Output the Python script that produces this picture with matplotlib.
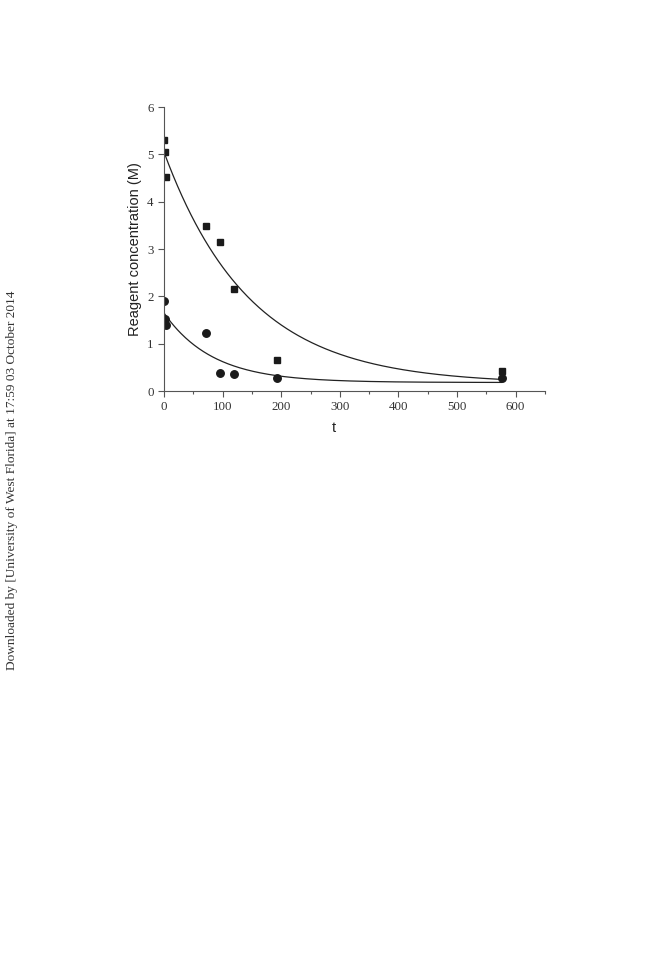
import numpy as np
import matplotlib.pyplot as plt

# data
t_sq = [0, 2, 4, 72, 96, 120, 192, 576]
c_sq = [5.3, 5.05, 4.53, 3.48, 3.14, 2.15, 0.65, 0.43]
t_ci = [0, 2, 4, 72, 96, 120, 192, 576]
c_ci = [1.9, 1.53, 1.4, 1.23, 0.38, 0.35, 0.28, 0.27]

# exponential decay fits y = A*exp(-t/tau) + y0
fit_sq = (4.9, 146.0, 0.15)
fit_ci = (1.47, 83.0, 0.18)

fig = plt.figure(figsize=(6.72, 9.6), dpi=100)
ax = fig.add_axes([0.244, 0.5927, 0.567, 0.2958])

tt = np.linspace(0, 576, 300)
for (A, tau, y0) in (fit_sq, fit_ci):
    ax.plot(tt, A * np.exp(-tt / tau) + y0, color='#222222', lw=0.9)

ax.plot(t_sq, c_sq, 's', color='#1a1a1a', ms=5.0)
ax.plot(t_ci, c_ci, 'o', color='#1a1a1a', ms=5.4)

ax.set_xlim(0, 650)
ax.set_ylim(0, 6)
ax.set_xticks([0, 100, 200, 300, 400, 500, 600])
ax.set_xticks(np.arange(50, 651, 100), minor=True)
ax.set_yticks(range(7))
ax.spines['top'].set_visible(False)
ax.spines['right'].set_visible(False)
for s in ('left', 'bottom'):
    ax.spines[s].set_color('#555555')
ax.tick_params(direction='out', length=4, width=0.8, colors='#555555',
               labelsize=9.3, labelcolor='#333333')
ax.tick_params(which='minor', direction='out', length=2.5, width=0.8, colors='#555555')
for lab in ax.get_xticklabels() + ax.get_yticklabels():
    lab.set_family('Liberation Serif')

ax.set_xlabel('t', family='Liberation Sans', fontsize=10.5, color='#222222')
ax.xaxis.set_label_coords(0.446, -0.105)
ax.set_ylabel('Reagent concentration (M)', family='Liberation Sans', fontsize=10.5,
              color='#222222')
ax.yaxis.set_label_coords(-0.058, 0.5)

fig.text(0.018, 0.5, 'Downloaded by [University of West Florida] at 17:59 03 October 2014',
         rotation=90, ha='center', va='center', family='Liberation Serif',
         fontsize=9.6, color='#333333')

fig.savefig('out.png', dpi=100)
